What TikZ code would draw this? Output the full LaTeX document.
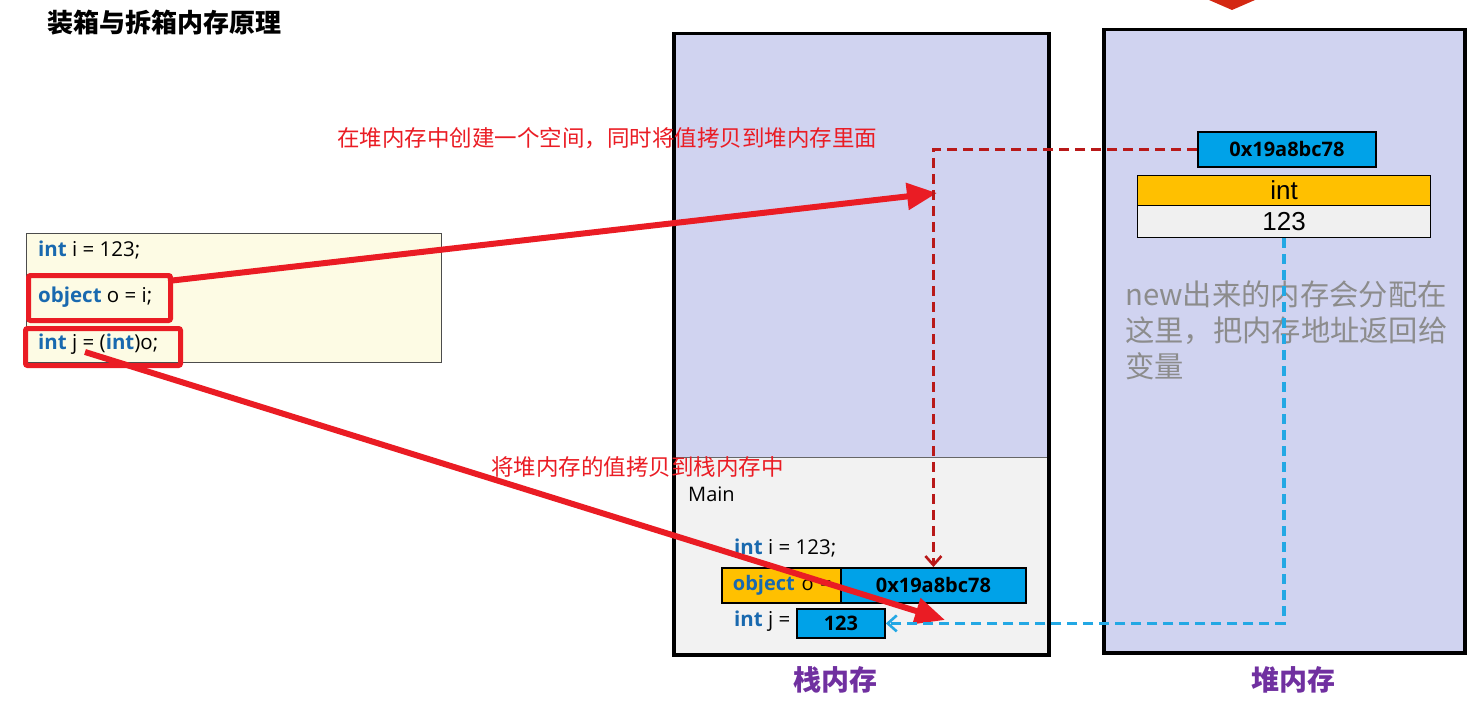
\documentclass[tikz,border=0pt]{standalone}
\usepackage{fontspec}
\usepackage{xcolor}
\setmainfont{Open Sans}
\newfontfamily\cjk{Noto Sans CJK SC}
\newfontfamily\arialfont{Liberation Sans}
\usetikzlibrary{arrows.meta,positioning}

\definecolor{heapbg}{RGB}{208,211,240}
\definecolor{stackbg}{RGB}{242,242,242}
\definecolor{codebg}{RGB}{253,251,228}
\definecolor{cellblue}{RGB}{0,162,232}
\definecolor{cellgold}{RGB}{255,192,0}
\definecolor{cellwhite}{RGB}{240,240,240}
\definecolor{kwblue}{RGB}{25,105,175}
\definecolor{markred}{RGB}{234,28,36}
\definecolor{linkred}{RGB}{185,25,25}
\definecolor{linkblue}{RGB}{35,168,228}
\definecolor{notegray}{RGB}{140,140,140}
\definecolor{labelpurple}{RGB}{112,48,160}
\definecolor{topred}{RGB}{212,40,18}

\newcommand{\kw}[1]{\textcolor{kwblue}{\textbf{#1}}}

\begin{document}
\begin{tikzpicture}[
    x=1pt, y=-1pt,
    codeline/.style={anchor=west, inner sep=0pt, font=\fontsize{20.5}{24}\selectfont},
    markbox/.style={rectangle, draw=markred, line width=5pt, rounded corners=2pt, anchor=north west},
    colfill/.style={rectangle, anchor=north west, inner sep=0pt, draw=black!60, line width=0.6pt},
    colframe/.style={rectangle, anchor=north west, inner sep=0pt, draw, line width=3.5pt},
    cell/.style={rectangle, draw, line width=1.8pt, inner sep=0pt, anchor=north west},
    bluecell/.style={cell, fill=cellblue, font=\fontsize{20}{24}\selectfont\bfseries},
    redarrow/.style={draw=markred, line width=6pt, -{Triangle[length=30pt,width=26pt]}},
    dasharrow/.style={line width=3.4pt, dash pattern=on 10pt off 6pt, -{Straight Barb[length=9pt,width=16pt,line width=2.6pt]}},
    memlabel/.style={font=\cjk\fontsize{28}{32}\selectfont\bfseries, text=labelpurple},
    redtext/.style={anchor=west, inner sep=0pt, text=markred, font=\cjk\fontsize{22.5}{26}\selectfont}
]
\useasboundingbox (0,0) rectangle (1482,703);

% Title
\node[anchor=west, inner sep=0pt, font=\cjk\fontsize{26}{29}\selectfont\bfseries] (title) at (47,23) {装箱与拆箱内存原理};
\fill[topred] (1209,0) -- (1255,0) -- (1232,10) -- cycle;

% Code box
\node[rectangle, draw=black!70, line width=1.2pt, fill=codebg, anchor=north west, minimum width=415pt, minimum height=129pt] (code) at (26,233) {};
\node[codeline] (line1) at (38,250) {\kw{int} i = 123;};
\node[codeline] (line2) at (38,297) {\kw{object} o = i;};
\node[codeline] (line3) at (38,344) {\kw{int} j = (\kw{int})o;};
\node[markbox, minimum width=142pt, minimum height=45pt] (markobj) at (26,273) {};
\node[markbox, minimum width=155pt, minimum height=37pt] (markint) at (23,326) {};

% Stack memory
\node[colfill, fill=heapbg, minimum width=375pt, minimum height=425pt] (stacktop) at (672,32) {};
\node[colfill, fill=stackbg, minimum width=375pt, minimum height=196pt] (stackbottom) at (672,457) {};
\node[colframe, minimum width=375pt, minimum height=621pt] (stack) at (672,32) {};
\node[anchor=west, inner sep=0pt, font=\fontsize{20}{24}\selectfont] (mainlbl) at (688,494) {Main};
\node[codeline] (stacki) at (734,548) {\kw{int} i = 123;};
\node[cell, fill=cellgold, minimum width=119pt, minimum height=35pt, text width=115pt, align=left, font=\fontsize{20}{24}\selectfont] (stackobj) at (721,567) {\hspace*{9pt}\kw{object} o =};
\node[bluecell, minimum width=185pt, minimum height=35pt] (stackaddr) at (840,567) {0x19a8bc78};
\node[codeline] (stackjlbl) at (734,621) {\kw{int} j =};
\node[bluecell, minimum width=88pt, minimum height=29pt] (stackj) at (796,608) {123};
\node[memlabel] (stacklbl) at (835,680) {栈内存};

% Heap memory
\node[colfill, fill=heapbg, draw=none, minimum width=361pt, minimum height=623pt] (heapfill) at (1102,28) {};
\node[colframe, minimum width=361pt, minimum height=623pt] (heap) at (1102,28) {};
\node[bluecell, minimum width=178pt, minimum height=35pt] (heapaddr) at (1197,131) {0x19a8bc78};
\node[cell, fill=cellgold, line width=1.2pt, minimum width=293pt, minimum height=30pt, font=\arialfont\fontsize{26}{28}\selectfont] (heaptype) at (1137,175) {int};
\node[cell, fill=cellwhite, line width=1.2pt, minimum width=293pt, minimum height=32pt, font=\arialfont\fontsize{26}{28}\selectfont] (heapval) at (1137,205) {123};
\node[anchor=north west, inner sep=0pt, text=notegray, text width=340pt, align=left, font=\cjk\fontsize{29.3}{36}\selectfont] (note) at (1125,281) {new出来的内存会分配在\\这里，把内存地址返回给\\变量};
\node[memlabel] (heaplbl) at (1293,680) {堆内存};

% Red labels
\node[redtext] (boxtext) at (337,138) {在堆内存中创建一个空间，同时将值拷贝到堆内存里面};
\node[redtext] (unboxtext) at (491,467) {将堆内存的值拷贝到栈内存中};

% Arrows
\coordinate (boxtip) at (937,193);
\coordinate (unboxtip) at (945,620);
\draw[redarrow] ([xshift=-5pt,yshift=-8pt]markobj.north east) -- (boxtip);
\draw[redarrow] (85,352) -- (unboxtip);
\draw[dasharrow, draw=linkred] (heapaddr.west) -| (stackaddr.north);
\draw[dasharrow, draw=linkblue] (heapval.south) |- (stackj.east);

\end{tikzpicture}
\end{document}
